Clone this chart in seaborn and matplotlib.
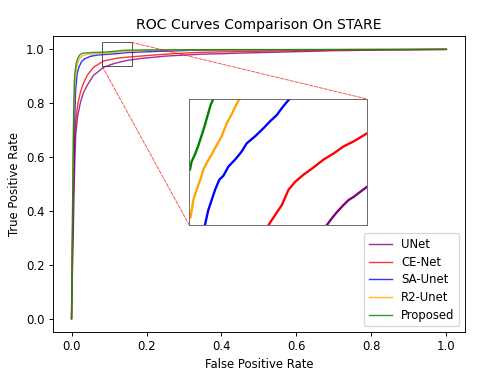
import matplotlib
matplotlib.use("Agg")
import matplotlib.pyplot as plt
import seaborn as sns
from matplotlib.patches import Rectangle, ConnectionPatch

# ROC points (FPR, TPR) for each model
models = ["UNet", "CE-Net", "SA-Unet", "R2-Unet", "Proposed"]
colors = ["purple", "red", "blue", "orange", "green"]

unet_fpr = [0, 0.002, 0.005, 0.008, 0.011, 0.016, 0.024, 0.032, 0.042, 0.059, 0.086, 0.115,
            0.148, 0.184, 0.25, 0.33, 0.37,
            0.4062, 0.4182, 0.4299, 0.4452, 0.4573, 0.4689, 0.4842, 0.5,
            0.7, 0.85, 1.0]
unet_tpr = [0, 0.15, 0.35, 0.55, 0.68, 0.75, 0.805, 0.84, 0.867, 0.904, 0.934, 0.948,
            0.959, 0.966, 0.975, 0.981, 0.983,
            0.9840, 0.9847, 0.9853, 0.9860, 0.9865, 0.9868, 0.9873, 0.9878,
            0.995, 0.998, 1.0]

cenet_fpr = [0, 0.002, 0.004, 0.007, 0.011, 0.017, 0.024, 0.032, 0.042, 0.059, 0.086, 0.12,
             0.148, 0.184, 0.23,
             0.2697, 0.2854, 0.3012, 0.3166, 0.3323, 0.3518, 0.3714, 0.3987, 0.4220, 0.4452,
             0.4689, 0.4884, 0.5, 0.7, 1.0]
cenet_tpr = [0, 0.2, 0.4, 0.6, 0.73, 0.8, 0.842, 0.875, 0.904, 0.934, 0.957, 0.967,
             0.971, 0.975, 0.98,
             0.9840, 0.9850, 0.9860, 0.9875, 0.9883, 0.9890, 0.9896, 0.9905, 0.9911, 0.9918,
             0.9923, 0.9928, 0.9931, 0.997, 1.0]

saunet_fpr = [0, 0.002, 0.005, 0.008, 0.011, 0.015, 0.02, 0.027, 0.035, 0.05, 0.07, 0.09, 0.11,
              0.1215, 0.1294, 0.1373, 0.1452, 0.1551, 0.1647, 0.1763, 0.1921, 0.2074, 0.2190,
              0.2386, 0.2581, 0.2738, 0.2892, 0.3012, 0.3128, 0.3191, 0.45, 1.0]
saunet_tpr = [0, 0.25, 0.5, 0.72, 0.85, 0.91, 0.935, 0.955, 0.965, 0.974, 0.979, 0.981, 0.983,
              0.9840, 0.9855, 0.9865, 0.9875, 0.9885, 0.9889, 0.9898, 0.9905, 0.9913, 0.9921,
              0.9928, 0.9936, 0.9943, 0.9949, 0.9956, 0.9962, 0.9965, 0.998, 1.0]

r2unet_fpr = [0, 0.002, 0.004, 0.006, 0.009, 0.013, 0.019, 0.027, 0.04, 0.06, 0.08,
              0.0881, 0.0945, 0.1020, 0.1116, 0.1178, 0.1273, 0.1373, 0.1473, 0.1605, 0.1726,
              0.1842, 0.1941, 0.2020, 0.3, 1.0]
r2unet_tpr = [0, 0.3, 0.55, 0.75, 0.87, 0.93, 0.96, 0.975, 0.981, 0.983, 0.9845,
              0.9848, 0.9865, 0.9875, 0.9886, 0.9895, 0.9903, 0.9910, 0.9918, 0.9928, 0.9941,
              0.9950, 0.9959, 0.9965, 0.998, 1.0]

proposed_fpr = [0, 0.002, 0.004, 0.006, 0.008, 0.012, 0.016, 0.022, 0.03, 0.05, 0.07,
                0.0867, 0.0904, 0.0983, 0.1062, 0.1116, 0.1178, 0.1240, 0.1294, 0.1348, 0.1410,
                0.2, 0.4, 1.0]
proposed_tpr = [0, 0.3, 0.6, 0.8, 0.9, 0.945, 0.965, 0.98, 0.986, 0.988, 0.989,
                0.9895, 0.9903, 0.9910, 0.9919, 0.9926, 0.9934, 0.9943, 0.9951, 0.9959, 0.9965,
                0.998, 0.999, 1.0]

curves = [(unet_fpr, unet_tpr), (cenet_fpr, cenet_tpr), (saunet_fpr, saunet_tpr),
          (r2unet_fpr, r2unet_tpr), (proposed_fpr, proposed_tpr)]

# zoom box drawn on the main plot, and the window shown in the inset
zoom_box = (0.082, 0.16, 0.937, 1.026)
inset_xlim = (0.085, 0.5)
inset_ylim = (0.984, 0.9965)

DPI = 84
fig = plt.figure(figsize=(480 / DPI, 374 / DPI), dpi=DPI)
ax = fig.add_axes([0.110, 0.112, 0.859, 0.792])

for (fpr, tpr), name, c in zip(curves, models, colors):
    sns.lineplot(x=fpr, y=tpr, ax=ax, color=c, label=name, lw=1.2, alpha=0.8,
                 sort=False, estimator=None)

ax.set_title("ROC Curves Comparison On STARE")
ax.set_xlabel("False Positive Rate")
ax.set_ylabel("True Positive Rate")
leg = ax.legend(loc="lower right", labelspacing=0.4)
leg.set_zorder(10)

# inset
axins = ax.inset_axes([0.331, 0.361, 0.431, 0.426])
for (fpr, tpr), c in zip(curves, colors):
    sns.lineplot(x=fpr, y=tpr, ax=axins, color=c, lw=2, sort=False,
                 estimator=None, legend=False)
axins.set_xlim(*inset_xlim)
axins.set_ylim(*inset_ylim)
axins.set_xticks([])
axins.set_yticks([])
axins.set_xlabel("")
axins.set_ylabel("")
for s in axins.spines.values():
    s.set_edgecolor("0.4")

x0, x1, y0, y1 = zoom_box
ax.add_patch(Rectangle((x0, y0), x1 - x0, y1 - y0, fill=False, ec="0.3", lw=0.8))
for pa, pb in [((x1, y1), (1, 1)), ((x0, y0), (0, 0))]:
    con = ConnectionPatch(xyA=pa, coordsA=ax.transData, xyB=pb, coordsB=axins.transAxes,
                          color="red", ls="--", lw=0.8, alpha=0.7)
    fig.add_artist(con)

fig.savefig("out.png", dpi=DPI)
